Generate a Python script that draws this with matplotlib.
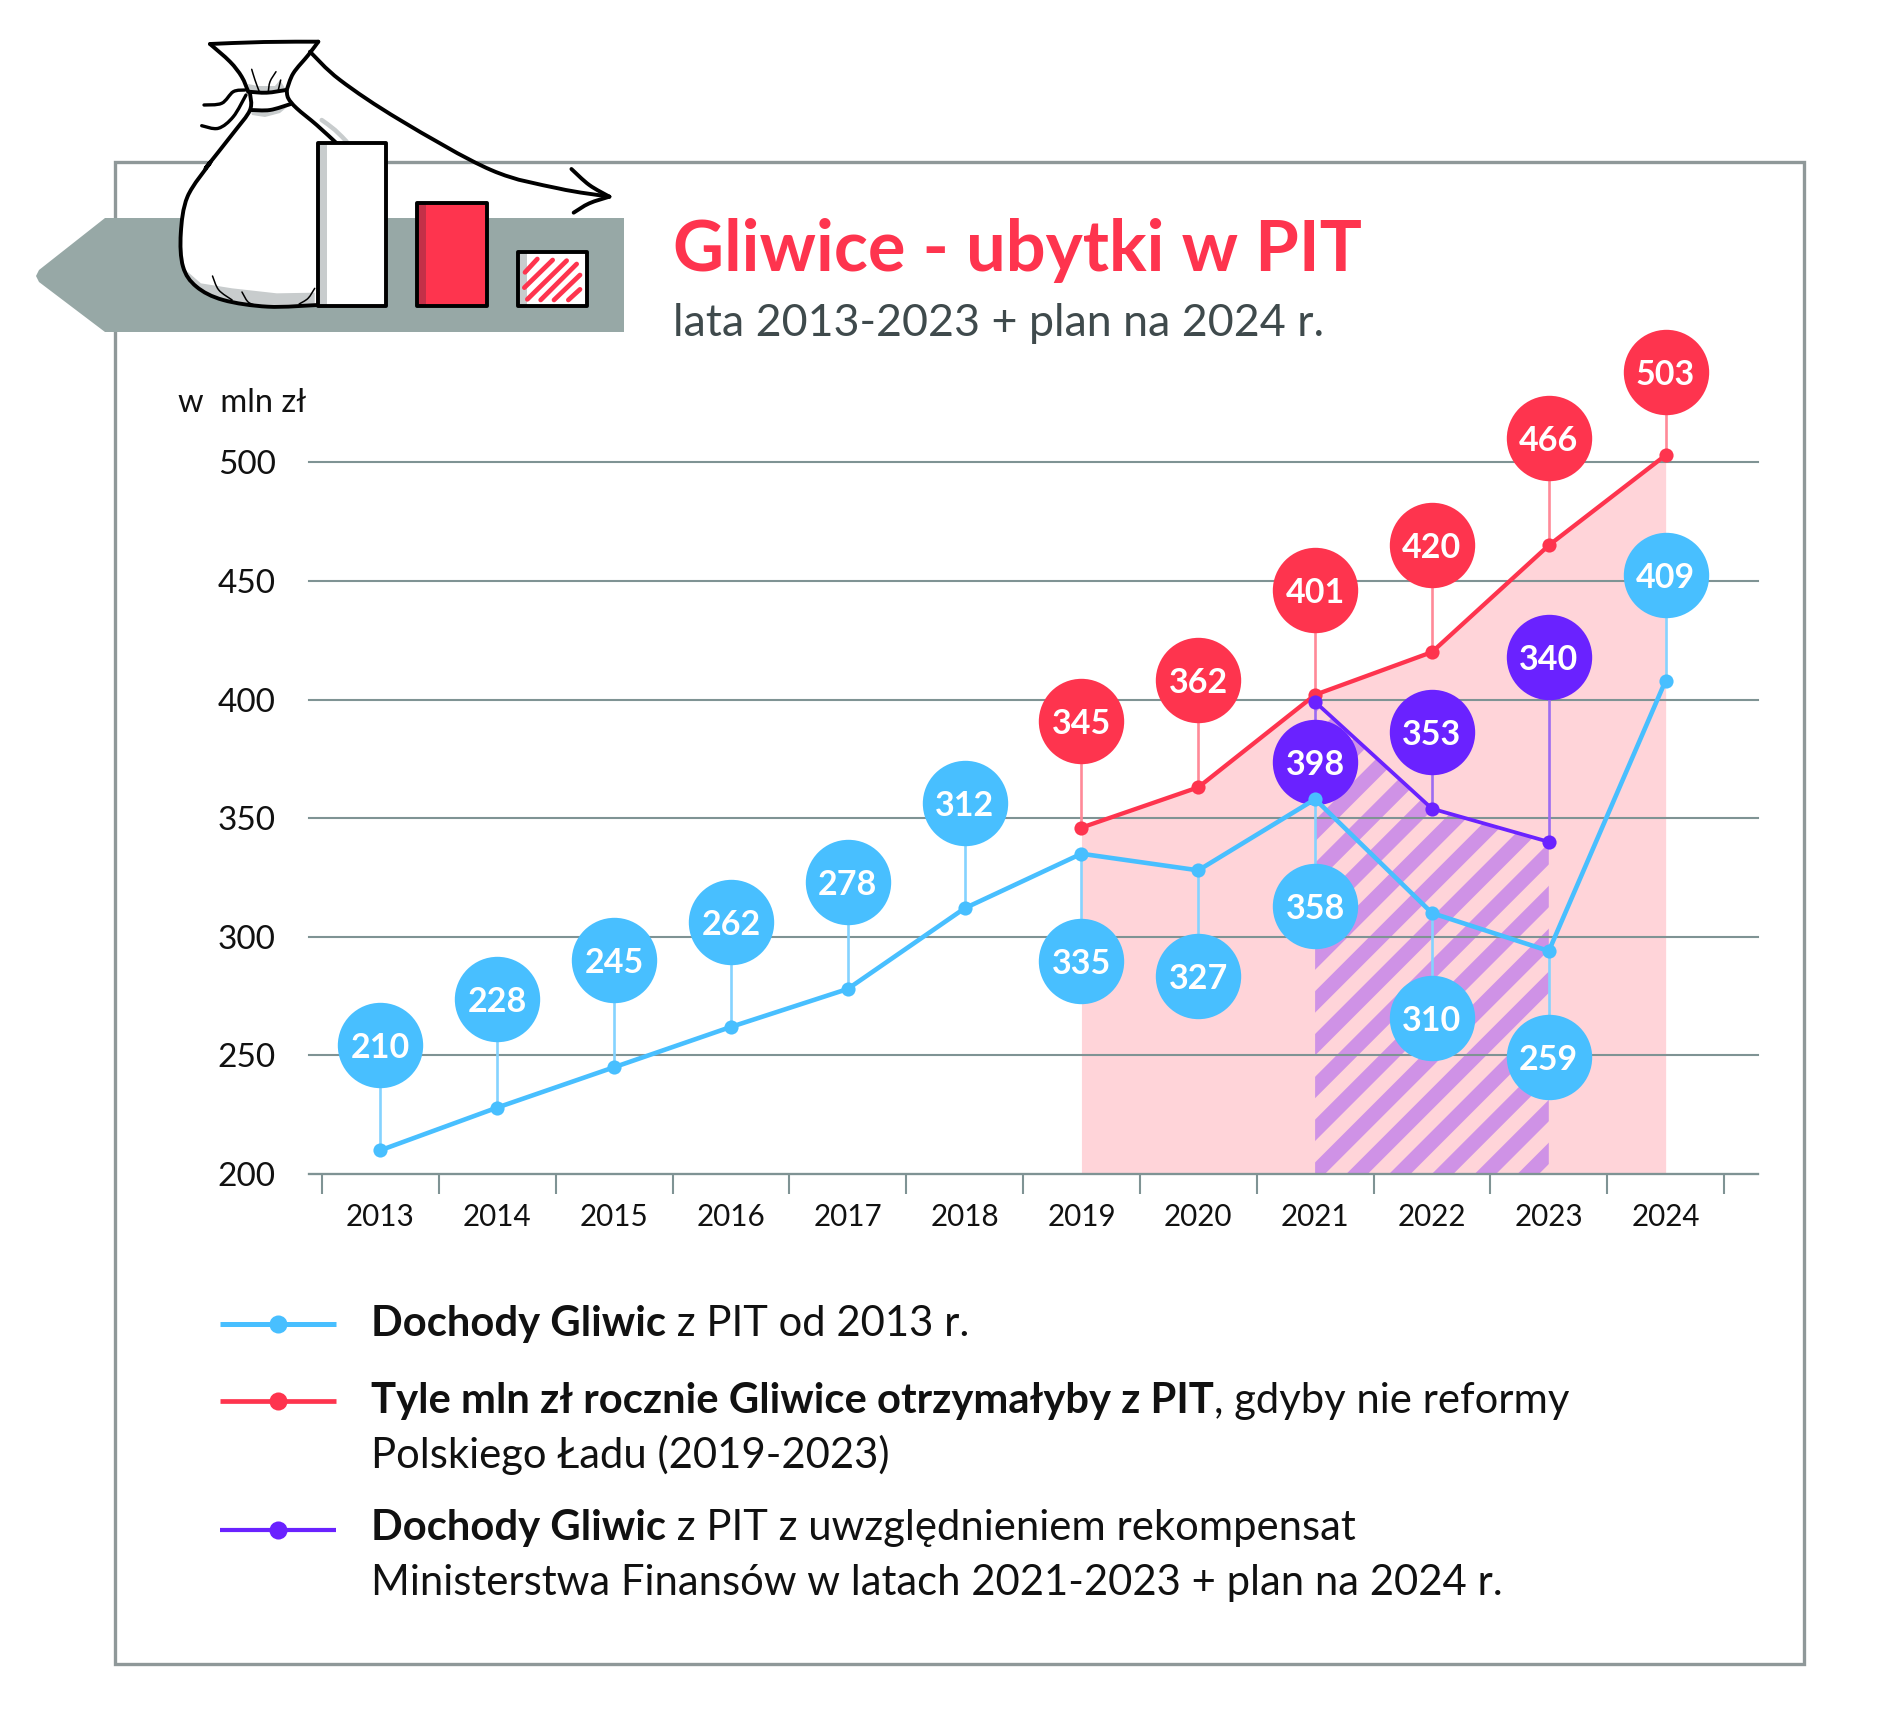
import numpy as np
import matplotlib
matplotlib.use("Agg")
import matplotlib.pyplot as plt
from matplotlib.path import Path
from matplotlib.patches import PathPatch, Polygon, Rectangle

plt.rcParams['font.family'] = ['Lato', 'DejaVu Sans']

# data
years = [2013, 2014, 2015, 2016, 2017, 2018, 2019, 2020, 2021, 2022, 2023, 2024]
yticks = [200, 250, 300, 350, 400, 450, 500]

blue_values = [210, 228, 245, 262, 278, 312, 335, 328, 358, 310, 294, 408]
blue_labels = ["210", "228", "245", "262", "278", "312", "335", "327", "358", "310", "259", "409"]

red_years = [2019, 2020, 2021, 2022, 2023, 2024]
red_values = [346, 363, 402, 420, 465, 503]
red_labels = ["345", "362", "401", "420", "466", "503"]

purple_years = [2021, 2022, 2023]
purple_values = [399, 354, 340]
purple_labels = ["398", "353", "340"]

# where the round labels sit, on the value scale
blue_bubble = [254.5, 273.8, 290, 306.4, 323.2, 356.2, 289.6, 283.5, 313, 265.6, 249.4, 452.4]
red_bubble = [390.8, 408.1, 446.3, 465.1, 510.4, 537.9]
purple_bubble = [373.5, 386.3, 417.8]

BLUE = "#48BFFF"
RED = "#FE344E"
PURPLE = "#6A22FF"
GRID = "#7F9394"
FRAME = "#8F9899"
BAND = "#97A8A6"
W, H = 1888, 1735

fig = plt.figure(figsize=(W/100, H/100), dpi=100)

# background layer in pixels: frame, band, bag, texts
bg = fig.add_axes([0, 0, 1, 1], zorder=0)
bg.set_xlim(0, W)
bg.set_ylim(H, 0)
bg.axis("off")

# main chart
left, right, top, bottom = 309.0, 1758.0, 462.3, 1174.0
ax = fig.add_axes([left/W, 1-bottom/H, (right-left)/W, (bottom-top)/H], zorder=1)
ax.patch.set_alpha(0)
x0, step = 380.4, 116.84
ax.set_xlim((left-x0)/step, (right-x0)/step)
ax.set_ylim(200, 500)
for s in ["top", "left", "right"]:
    ax.spines[s].set_visible(False)
ax.spines["bottom"].set_color(GRID)
ax.spines["bottom"].set_linewidth(1.6)
ax.spines["bottom"].set_zorder(3)

xpos = np.arange(len(years))
ax.set_xticks(xpos[0]-0.5+np.arange(len(years)+1))
ax.set_xticklabels([])
ax.tick_params(axis="x", which="major", length=14.5, width=1.5, color=GRID)
ax.set_xticks(xpos, minor=True)
ax.set_xticklabels(years, minor=True, fontsize=21.3, color="#111111")
ax.tick_params(axis="x", which="minor", length=0, pad=21)
ax.set_yticks(yticks)
ax.set_yticklabels(yticks, fontsize=24, color="#111111", ha="right")
ax.tick_params(axis="y", length=0, pad=24)
ax.grid(axis="y", color=GRID, lw=1.5, zorder=3)
ax.set_axisbelow(False)
ax.yaxis.grid(True, zorder=3)
for gl in ax.get_ygridlines():
    gl.set_clip_on(False)

rx = np.array([years.index(y) for y in red_years])
px = np.array([years.index(y) for y in purple_years])

# shaded areas
ax.fill_between(rx, 200, red_values, color="#FFD4D9", lw=0, zorder=1)
hatch_area = ax.fill_between(px, 200, purple_values, color="none", lw=0, zorder=2)
clip = hatch_area.get_paths()[0]
xs = np.array([7.5, 10.5])
yscale = (bottom-top)/300
for k in range(-20, 16):
    ys = 290.6 + k*42.8/yscale + (xs-px[0])*step/yscale
    stripe, = ax.plot(xs, ys, color="#CF92E6", lw=10.9, solid_capstyle="butt", zorder=2)
    stripe.set_clip_path(clip, ax.transData)


def series(xv, values, labels, bubbles, color, stem, lw):
    for x, v, t, b in zip(xv, values, labels, bubbles):
        ax.plot([x, x], [v, b], color=stem, lw=1.9, zorder=4, clip_on=False)
    ax.plot(xv, values, color=color, lw=lw, marker="o", ms=10.2, mew=0, zorder=6, clip_on=False)
    ax.scatter(xv, bubbles, s=3780, color=color, lw=0, zorder=5, clip_on=False)
    for x, t, b in zip(xv, labels, bubbles):
        ax.text(x, b, t, color="white", fontsize=24.5, fontweight="bold", ha="center",
                va="center_baseline", zorder=7, clip_on=False)


series(rx, red_values, red_labels, red_bubble, RED, "#FF8A98", 3.1)
series(px, purple_values, purple_labels, purple_bubble, PURPLE, "#9C6CF2", 2.7)
series(xpos, blue_values, blue_labels, blue_bubble, BLUE, "#84D3FF", 3.3)

# frame and the grey band
bg.add_patch(Rectangle((114.5, 162), 1689.5, 1501.5, fc="none", ec=FRAME, lw=2.4))
bg.add_patch(Polygon([(39, 270), (36, 276), (39, 282), (105, 332), (624, 332), (624, 218), (105, 218)],
                     fc=BAND, ec="none"))


# bag drawing, points measured from crops of the reference
def zp(pts):
    return [(x/2.24, y/3.0) for x, y in pts]


def smooth(pts):
    # catmull-rom through the points
    p = np.array(pts, dtype=float)
    p = np.vstack([p[0], p, p[-1]])
    verts = [tuple(p[1])]
    codes = [Path.MOVETO]
    for i in range(1, len(p)-2):
        c1 = p[i]+(p[i+1]-p[i-1])/6
        c2 = p[i+1]-(p[i+2]-p[i])/6
        verts += [tuple(c1), tuple(c2), tuple(p[i+1])]
        codes += [Path.CURVE4]*3
    return Path(verts, codes)


def curve(pts, lw=2.8, color="black", z=3):
    bg.add_patch(PathPatch(smooth(pts), fc="none", ec=color, lw=lw, capstyle="round",
                           joinstyle="round", zorder=z))


lower = zp([(470, 490), (420, 590), (405, 700), (410, 800), (440, 860), (500, 900), (600, 920), (712, 915)])
shoulder_l = [(250, 93.3), (250, 110), (233.3, 133)]
shoulder_r = [(286.7, 90), (288.3, 98.3), (296.7, 108.3), (316.7, 125), (336.7, 143.3)]
bg.add_patch(Polygon(shoulder_l+lower+shoulder_r[::-1], fc="white", ec="none", zorder=2))
bg.add_patch(Polygon([(210, 44), (318.3, 41.7), (308.3, 55), (293.3, 73.3), (286, 90), (248.3, 91.7),
                      (241.7, 76.7), (230, 61.7)], fc="white", ec="none", zorder=2))
shadow = "#C8CCCD"
bg.add_patch(Polygon(zp([(420, 815), (450, 850), (520, 865), (620, 880), (705, 878), (705, 912), (560, 915),
                         (470, 890), (425, 850)]), fc=shadow, ec="none", zorder=2))
bg.add_patch(Polygon([(248, 84), (258, 86), (275, 86), (280, 80), (286, 90), (250, 92)], fc=shadow, ec="none", zorder=2))
bg.add_patch(Polygon([(251, 112), (270, 110), (290.7, 104), (280, 113), (265, 117), (252, 115)], fc=shadow,
                     ec="none", zorder=2))
curve([(321.7, 120), (335, 130), (346.7, 141.7)], lw=3.2, color=shadow, z=2)

curve([(210, 44), (264, 42), (318.3, 41.7)])
curve([(210, 44), (230, 61.7), (241.7, 76.7), (248.3, 91.7)])
curve([(318.3, 41.7), (308.3, 55), (293.3, 73.3), (286.7, 90)])
curve(shoulder_r)
curve(shoulder_l+[(206.7, 166.7)]+lower)
curve([(248.3, 91.7), (266.7, 92.7), (286, 90)])
curve([(251, 110), (270, 110), (290.7, 104)])
curve([(245, 90), (233.3, 91.7), (221.7, 103.3), (204, 105)], lw=2.4)
curve([(246, 95), (233.3, 116.7), (218.3, 128.3), (201.7, 125.7)], lw=2.4)
curve([(251.7, 69.3), (255, 80), (259.3, 91.7)], lw=1.1)
curve([(276, 71.7), (270, 81.7), (268.3, 91.7)], lw=1.1)
curve([(280.7, 80), (278.3, 90)], lw=1.1)
curve(zp([(476, 828), (490, 870), (520, 900)]), lw=1.1)
curve(zp([(542, 876), (555, 905), (570, 915)]), lw=1.1)
curve(zp([(705, 865), (690, 895), (670, 912)]), lw=1.1)

# three small bars
for (x1, x2, y1), fc, dark in [((712, 865, 430), "white", shadow), ((935, 1090, 610), RED, "#C43048"),
                               ((1160, 1315, 757), "white", shadow)]:
    a, b = zp([(x1, y1), (x2, 918)])
    bg.add_patch(Rectangle(a, b[0]-a[0], b[1]-a[1], fc=fc, ec="none", zorder=3))
    c, d = zp([(x1, y1), (x1+20, 918)])
    bg.add_patch(Rectangle(c, d[0]-c[0], d[1]-c[1], fc=dark, ec="none", zorder=3))
# stripes of the last bar
for s1, s2 in [((60, 97), (97, 57)), ((58, 143), (143, 60)), ((67, 178), (185, 62)), ((107, 180), (215, 72)),
               ((147, 180), (225, 105)), ((190, 180), (225, 148))]:
    bg.plot([505+s1[0]/3, 505+s2[0]/3], [240+s1[1]/3, 240+s2[1]/3], color=RED, lw=3.4,
            solid_capstyle="round", zorder=4)
for x1, x2, y1 in [(712, 865, 430), (935, 1090, 610), (1160, 1315, 757)]:
    a, b = zp([(x1, y1), (x2, 918)])
    bg.add_patch(Rectangle(a, b[0]-a[0], b[1]-a[1], fc="none", ec="black", lw=2.8, zorder=5,
                           joinstyle="round"))

# arrow
curve([(310, 51.7), (340, 80), (400, 120)]+zp([(1100, 510), (1250, 565), (1365, 590)]), z=6)
curve(zp([(1280, 507), (1320, 555), (1365, 590)]), z=6)
curve(zp([(1365, 590), (1320, 610), (1285, 638)]), z=6)

# titles
bg.text(673, 271, "Gliwice - ubytki w PIT", color=RED, fontsize=50.7, fontweight="bold", va="baseline")
bg.text(673, 336, "lata 2013-2023 + plan na 2024 r.", color="#3F4A4C", fontsize=32.2, va="baseline")
bg.text(178, 412, "w  mln zł", color="#111111", fontsize=23.5, va="baseline")

# legend
renderer = fig.canvas.get_renderer()
LEG = 30.1


def mixed(y, bold, rest):
    x = 371
    if bold:
        t = bg.text(x, y, bold, color="#111111", fontsize=LEG, fontweight="bold", va="baseline")
        x = t.get_window_extent(renderer).x1
    bg.text(x, y, rest, color="#111111", fontsize=LEG, va="baseline")


for y, c, lw in [(1324, BLUE, 3.6), (1401, RED, 3.4), (1530, PURPLE, 3.0)]:
    bg.plot([220, 336], [y, y], color=c, lw=lw, solid_capstyle="butt")
    bg.plot([278], [y], color=c, marker="o", ms=13, mew=0)

mixed(1336, "Dochody Gliwic", " z PIT od 2013 r.")
mixed(1413, "Tyle mln zł rocznie Gliwice otrzymałyby z PIT", ", gdyby nie reformy")
mixed(1468, "", "Polskiego Ładu (2019-2023)")
mixed(1540, "Dochody Gliwic", " z PIT z uwzględnieniem rekompensat")
mixed(1595, "", "Ministerstwa Finansów w latach 2021-2023 + plan na 2024 r.")

fig.savefig("out.png", dpi=100, facecolor="white")
